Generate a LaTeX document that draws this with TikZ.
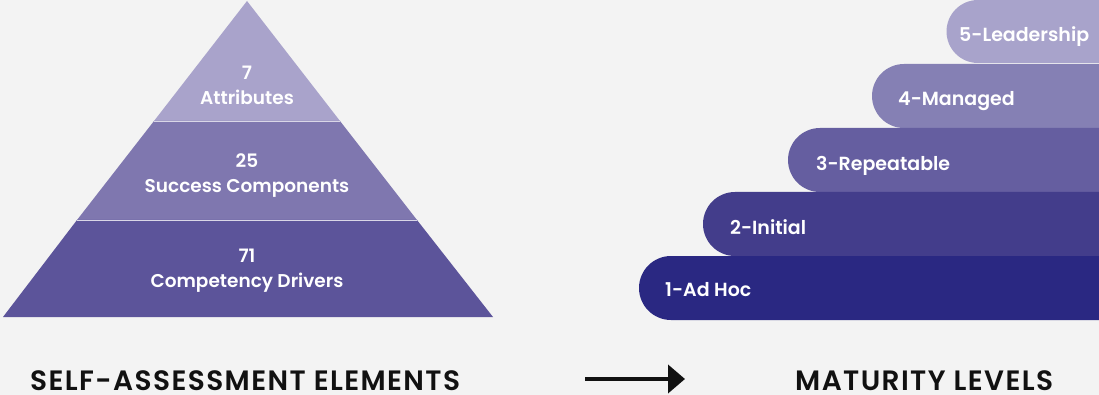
\documentclass[tikz,border=0pt]{standalone}
\usepackage{fontspec}
\usetikzlibrary{arrows.meta}
\setmainfont{Poppins}
\newfontfamily\lblfont{Poppins SemiBold}
\newfontfamily\capfont{Poppins SemiBold}[LetterSpace=5]
\definecolor{bg}{HTML}{F3F3F3}
\definecolor{pyA}{HTML}{A9A3CB}
\definecolor{pyB}{HTML}{7F77AF}
\definecolor{pyC}{HTML}{5C549A}
\definecolor{stA}{HTML}{A8A3CB}
\definecolor{stB}{HTML}{8580B4}
\definecolor{stC}{HTML}{655EA0}
\definecolor{stD}{HTML}{433D8B}
\definecolor{stE}{HTML}{2A2882}
\definecolor{ink}{HTML}{111111}
\begin{document}
\begin{tikzpicture}[x=1pt,y=1pt,
  wtxt/.style={text=white,font=\lblfont\fontsize{18.5}{20}\selectfont,inner sep=0pt},
  ptxt/.style={wtxt,anchor=base},
  stxt/.style={wtxt,font=\lblfont\fontsize{19}{20}\selectfont,anchor=base west},
  captxt/.style={text=ink,font=\capfont\fontsize{28}{30}\selectfont,inner sep=0pt,text depth=0pt,anchor=base west},
  divider/.style={draw=white!70!pyB,line width=0.8pt}]
\fill[bg] (0,0) rectangle (1099,-395);
\useasboundingbox (0,0) rectangle (1099,-395);
% pyramid
\coordinate (apex) at (247,-1);
\coordinate (bl) at (3,-317);
\coordinate (br) at (493,-317);
\coordinate (l1) at (154,-121);
\coordinate (r1) at (340,-121);
\coordinate (l2) at (77,-220);
\coordinate (r2) at (417,-220);
\fill[pyA] (apex) -- (r1) -- (l1) -- cycle;
\fill[pyB] (l1) -- (r1) -- (r2) -- (l2) -- cycle;
\fill[pyC] (l2) -- (r2) -- (br) -- (bl) -- cycle;
\draw[divider] (l1) -- (r1);
\draw[divider] (l2) -- (r2);
\node[ptxt] (n1) at (247,-80) {7};
\node[ptxt] (t1) at (247,-105) {Attributes};
\node[ptxt] (n2) at (247,-168) {25};
\node[ptxt] (t2) at (247,-193) {Success Components};
\node[ptxt] (n3) at (247,-262) {71};
\node[ptxt] (t3) at (247,-287) {Competency Drivers};
% steps
\fill[stA] (1099,-63) -- (978,-63) arc[start angle=270,end angle=90,radius=31.5] -- (1099,0) -- cycle;
\fill[stB] (1099,-128) -- (904,-128) arc[start angle=270,end angle=90,radius=32] -- (1099,-64) -- cycle;
\fill[stC] (1099,-192) -- (820,-192) arc[start angle=270,end angle=90,radius=32] -- (1099,-128) -- cycle;
\fill[stD] (1099,-256) -- (735,-256) arc[start angle=270,end angle=90,radius=32] -- (1099,-192) -- cycle;
\fill[stE] (1099,-320) -- (671,-320) arc[start angle=270,end angle=90,radius=32] -- (1099,-256) -- cycle;
\node[stxt] (s5) at (959,-42) {5-Leadership};
\node[stxt] (s4) at (898,-106) {4-Managed};
\node[stxt] (s3) at (816,-171) {3-Repeatable};
\node[stxt] (s2) at (730,-234) {2-Initial};
\node[stxt] (s1) at (665,-296) {1-Ad Hoc};
% captions
\node[captxt] (c1) at (30,-390) {SELF-ASSESSMENT ELEMENTS};
\node[captxt] (c2) at (795,-390) {MATURITY LEVELS};
\coordinate (a0) at (585,-379);
\coordinate (a1) at (685,-379);
\draw[ink,line width=4pt,-{Triangle[length=17pt,width=28pt]}] (a0) -- (a1);
\end{tikzpicture}
\end{document}
